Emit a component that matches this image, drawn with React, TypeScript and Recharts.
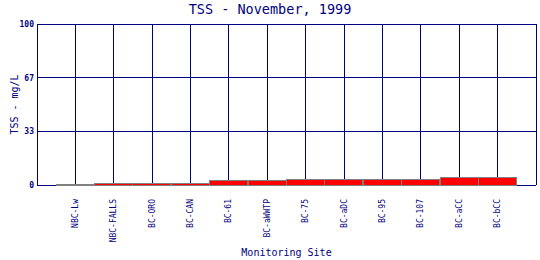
import {
  BarChart,
  Bar,
  XAxis,
  YAxis,
  CartesianGrid,
} from "recharts";

const sites = [
  "NBC-Lw",
  "NBC-FALLS",
  "BC-ORO",
  "BC-CAN",
  "BC-61",
  "BC-aWWTP",
  "BC-75",
  "BC-aDC",
  "BC-95",
  "BC-107",
  "BC-aCC",
  "BC-bCC",
];
const tss = [0, 1.1, 1.1, 1.1, 2.7, 2.7, 3.4, 3.4, 3.4, 3.2, 4.9, 4.9];
const yTicks = [0, 100 / 3, 200 / 3, 100];

const NAVY = "#000080";
const MONO = "'DejaVu Sans Mono', monospace";

const data = sites.map((name, i) => ({ pos: i + 1, name, tss: tss[i] }));
const xTicks = [0, ...data.map((d) => d.pos), sites.length + 1];

function SiteTick(props: any) {
  const { x, y, payload } = props;
  const name = sites[payload.value - 1];
  if (!name) return null;
  return (
    <text
      x={x}
      y={y + 6}
      transform={`rotate(-90, ${x}, ${y + 6})`}
      textAnchor="end"
      dominantBaseline="central"
      fontFamily={MONO}
      fontSize={8}
      fill={NAVY}
    >
      {name}
    </text>
  );
}

export default function App() {
  return (
    <div style={{ position: "absolute", left: 0, top: 0, width: 540, height: 260, background: "#fff" }}>
      {/* Title */}
      <div
        style={{
          position: "absolute",
          left: 0,
          top: 1,
          width: 540,
          textAlign: "center",
          fontFamily: MONO,
          fontSize: 13.5,
          color: NAVY,
          lineHeight: "16px",
        }}
      >
        TSS - November, 1999
      </div>

      <BarChart
        width={540}
        height={260}
        data={data}
        margin={{ top: 24, right: 4, bottom: 0, left: 0 }}
        style={{ shapeRendering: "crispEdges" }}
      >
        <CartesianGrid stroke={NAVY} strokeWidth={1} />
        <XAxis
          dataKey="pos"
          type="number"
          domain={[0, sites.length + 1]}
          ticks={xTicks}
          interval={0}
          height={75}
          axisLine={false}
          tickLine={false}
          tick={<SiteTick />}
          label={{
            value: "Monitoring Site",
            position: "insideBottom",
            offset: 4,
            fill: NAVY,
            fontFamily: MONO,
            fontSize: 10,
          }}
        />
        <YAxis
          width={37}
          domain={[0, 100]}
          ticks={yTicks}
          interval={0}
          axisLine={false}
          tickLine={false}
          tickSize={0}
          tickMargin={3}
          tickFormatter={(v: number) => String(Math.round(v))}
          tick={{ fill: NAVY, fontFamily: MONO, fontSize: 8, fontWeight: "bold" }}
          label={{
            value: "TSS - mg/L",
            angle: -90,
            position: "center",
            dx: -4,
            fill: NAVY,
            fontFamily: MONO,
            fontSize: 10,
          }}
        />
        <Bar
          dataKey="tss"
          fill="#ff0000"
          stroke="#808080"
          strokeWidth={1}
          barSize={38}
          minPointSize={1}
          isAnimationActive={false}
        />
      </BarChart>
    </div>
  );
}
